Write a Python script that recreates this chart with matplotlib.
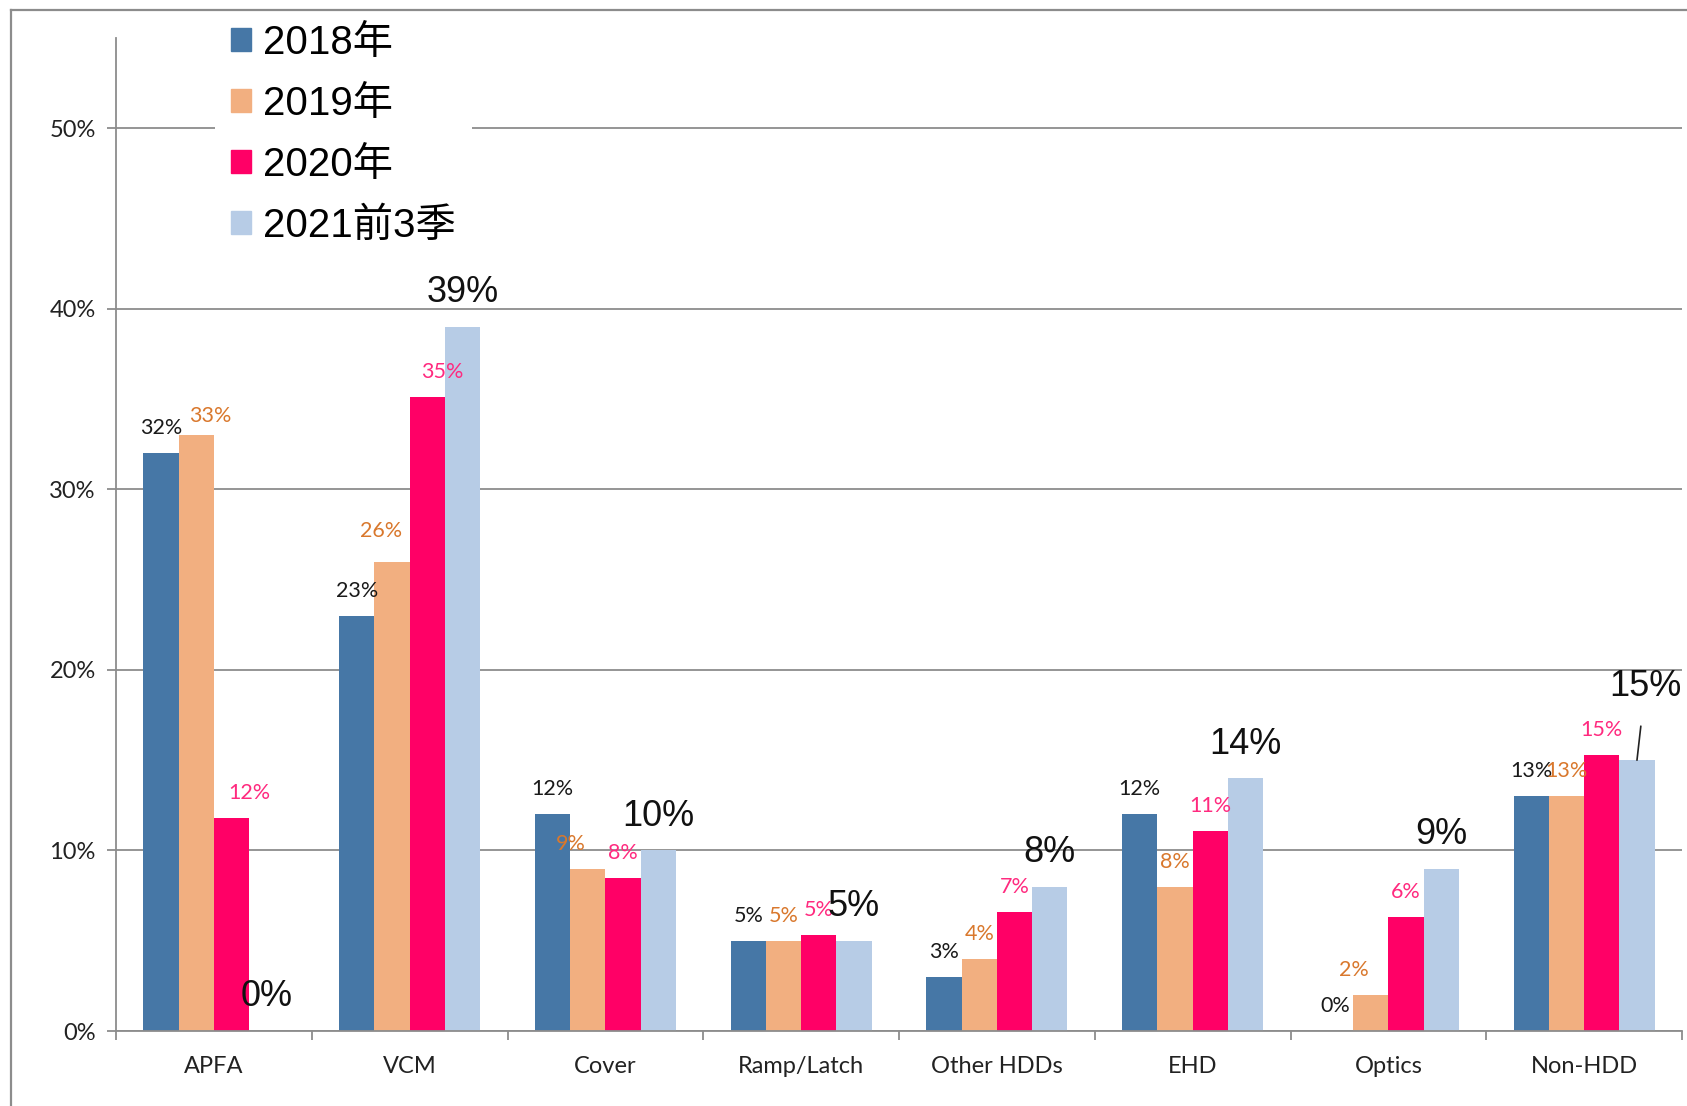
import matplotlib.pyplot as plt
from matplotlib.patches import Rectangle
from matplotlib.lines import Line2D
import numpy as np

categories = ["APFA", "VCM", "Cover", "Ramp/Latch", "Other HDDs", "EHD", "Optics", "Non-HDD"]
series = ["2018年", "2019年", "2020年", "2021前3季"]
v2018 = [32, 23, 12, 5, 3, 12, 0, 13]
v2019 = [33, 26, 9, 5, 4, 8, 2, 13]
v2020 = [11.8, 35.1, 8.5, 5.3, 6.6, 11.1, 6.3, 15.3]
v2021 = [0, 39, 10, 5, 8, 14, 9, 15]
shown = [
    [32, 23, 12, 5, 3, 12, 0, 13],
    [33, 26, 9, 5, 4, 8, 2, 13],
    [12, 35, 8, 5, 7, 11, 6, 15],
    [0, 39, 10, 5, 8, 14, 9, 15],
]
yticks = [0, 10, 20, 30, 40, 50]

bar_colors = ["#4677A6", "#F2AF80", "#FF0066", "#B7CCE6"]
label_colors = ["#1A1A1A", "#D9782D", "#FF2A7F", "#111111"]
grey = "#8C8C8C"

small_font = "Lato"
big_font = ["Liberation Sans", "Noto Sans CJK SC"]

fig = plt.figure(figsize=(16.87, 11.06), dpi=100)
ax = fig.add_axes([116 / 1687, 1 - 1031 / 1106, 1566 / 1687, 993 / 1106])

x = np.arange(len(categories))
w = 0.18
allvals = [v2018, v2019, v2020, v2021]
for i, vals in enumerate(allvals):
    ax.bar(x + (i - 1.5) * w, vals, w, color=bar_colors[i], zorder=2, linewidth=0)

# manual nudges (points) like the dragged labels in the original
nudge = {(0, 1): (10, -4), (0, 2): (13, 0), (1, 1): (-8, 4), (1, 2): (11, 0),
         (2, 1): (-12, 0), (6, 1): (-12, 0)}

for i, vals in enumerate(allvals):
    for j, v in enumerate(vals):
        xc = x[j] + (i - 1.5) * w
        txt = f"{shown[i][j]}%"
        if i == 3:
            if j == 7:
                ax.annotate(txt, (xc, v), xytext=(6, 53), textcoords="offset points",
                            ha="center", va="center", fontsize=26, family=big_font,
                            color=label_colors[i], zorder=4,
                            arrowprops=dict(arrowstyle="-", color="#222222", lw=1.2,
                                            shrinkA=14, shrinkB=0))
            else:
                ax.annotate(txt, (xc, v), xytext=(0, 24.5), textcoords="offset points",
                            ha="center", va="center", fontsize=26, family=big_font,
                            color=label_colors[i], zorder=4)
        else:
            dx, dy = nudge.get((j, i), (0, 0))
            ax.annotate(txt, (xc, v), xytext=(dx, 18 + dy), textcoords="offset points",
                        ha="center", va="center", fontsize=15.5, family=small_font,
                        color=label_colors[i], zorder=4)

ax.set_xlim(-0.5, len(categories) - 0.5)
ax.set_ylim(0, 55)
ax.set_yticks(yticks)
ax.set_yticklabels([f"{t}%" for t in yticks], fontsize=17, family=small_font, color="#222222")
ax.yaxis.grid(True, color=grey, lw=1.3, zorder=0)
ax.set_axisbelow(True)

ax.set_xticks(np.arange(-0.5, len(categories), 1))
ax.set_xticklabels([])
ax.set_xticks(x, minor=True)
ax.set_xticklabels(categories, minor=True, fontsize=17, family=small_font, color="#222222")
ax.tick_params(axis="x", which="major", direction="out", length=6.5, width=1.3, color=grey)
ax.tick_params(axis="x", which="minor", length=0, pad=18)
ax.tick_params(axis="y", direction="out", length=6.5, width=1.3, color=grey, pad=8)

for s in ["top", "right"]:
    ax.spines[s].set_visible(False)
for s in ["left", "bottom"]:
    ax.spines[s].set_color(grey)
    ax.spines[s].set_linewidth(1.3)

handles = [Rectangle((0, 0), 1, 1, color=c) for c in bar_colors]
leg = ax.legend(handles, series, loc="upper left", bbox_to_anchor=(215 / 1687, 1 - 8 / 1106),
                bbox_transform=fig.transFigure, borderaxespad=0, borderpad=0.4,
                handlelength=0.5, handleheight=0.5, handletextpad=0.3, labelspacing=0.57,
                frameon=True, fancybox=False, framealpha=1, edgecolor="none",
                prop={"family": big_font, "size": 29})
leg.set_zorder(5)

# outer frame of the pasted picture
fig.add_artist(Line2D([11 / 1687, 11 / 1687], [0, 1 - 10 / 1106], color=grey, lw=1.6,
                      transform=fig.transFigure, zorder=6))
fig.add_artist(Line2D([11 / 1687, 1], [1 - 10 / 1106, 1 - 10 / 1106], color=grey, lw=1.6,
                      transform=fig.transFigure, zorder=6))

fig.savefig("out.png", dpi=100)
